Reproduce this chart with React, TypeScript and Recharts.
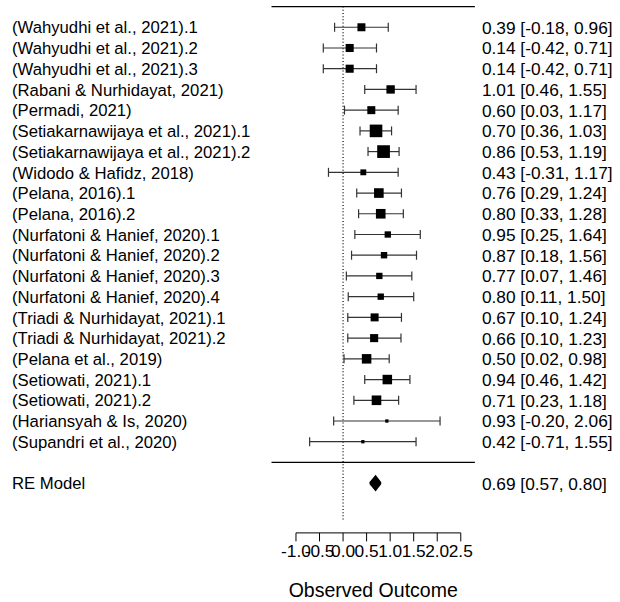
import React from 'react';
import {
  ComposedChart,
  Scatter,
  ErrorBar,
  Area,
  XAxis,
  YAxis,
  ReferenceLine
} from 'recharts';

const studies = [
  '(Wahyudhi et al., 2021).1',
  '(Wahyudhi et al., 2021).2',
  '(Wahyudhi et al., 2021).3',
  '(Rabani & Nurhidayat, 2021)',
  '(Permadi, 2021)',
  '(Setiakarnawijaya et al., 2021).1',
  '(Setiakarnawijaya et al., 2021).2',
  '(Widodo & Hafidz, 2018)',
  '(Pelana, 2016).1',
  '(Pelana, 2016).2',
  '(Nurfatoni & Hanief, 2020).1',
  '(Nurfatoni & Hanief, 2020).2',
  '(Nurfatoni & Hanief, 2020).3',
  '(Nurfatoni & Hanief, 2020).4',
  '(Triadi & Nurhidayat, 2021).1',
  '(Triadi & Nurhidayat, 2021).2',
  '(Pelana et al., 2019)',
  '(Setiowati, 2021).1',
  '(Setiowati, 2021).2',
  '(Hariansyah & Is, 2020)',
  '(Supandri et al., 2020)'
];
const estimates = [0.39, 0.14, 0.14, 1.01, 0.60, 0.70, 0.86, 0.43, 0.76, 0.80, 0.95, 0.87, 0.77, 0.80, 0.67, 0.66, 0.50, 0.94, 0.71, 0.93, 0.42];
const lowers = [-0.18, -0.42, -0.42, 0.46, 0.03, 0.36, 0.53, -0.31, 0.29, 0.33, 0.25, 0.18, 0.07, 0.11, 0.10, 0.10, 0.02, 0.46, 0.23, -0.20, -0.71];
const uppers = [0.96, 0.71, 0.71, 1.55, 1.17, 1.03, 1.19, 1.17, 1.24, 1.28, 1.64, 1.56, 1.46, 1.50, 1.24, 1.23, 0.98, 1.42, 1.18, 2.06, 1.55];
// approximate study weights (%)
const weights = [4.77, 4.82, 4.82, 5.02, 4.77, 7.72, 7.79, 3.41, 5.81, 5.81, 3.71, 3.73, 3.71, 3.71, 4.77, 4.82, 5.74, 5.74, 5.81, 1.76, 1.76];

const reLabel = 'RE Model';
const reEstimate = 0.69;
const reLower = 0.57;
const reUpper = 0.80;

const xTicks = [-1, -0.5, 0, 0.5, 1, 1.5, 2, 2.5];
const xLabel = 'Observed Outcome';

const FONT = '"Liberation Sans", Arial, sans-serif';
const k = studies.length;
const RE_ROW = -1;
const TOP_ROW = k + 1;
const AXIS_ROW = -3.4;
const DIAMOND_HALF = 0.33;

const fmt = (v: number) => v.toFixed(2);
const annotate = (e: number, l: number, u: number) => `${fmt(e)} [${fmt(l)}, ${fmt(u)}]`;

const studyData = studies.map((name, i) => ({
  name,
  x: estimates[i],
  y: k - i,
  err: [estimates[i] - lowers[i], uppers[i] - estimates[i]],
  w: weights[i]
}));

const diamondData = [
  { x: reLower, range: [RE_ROW, RE_ROW] },
  { x: reEstimate, range: [RE_ROW - DIAMOND_HALF, RE_ROW + DIAMOND_HALF] },
  { x: reUpper, range: [RE_ROW, RE_ROW] }
];

const leftLabels = new Map<number, string>();
const rightLabels = new Map<number, string>();
studyData.forEach((d, i) => {
  leftLabels.set(d.y, d.name);
  rightLabels.set(d.y, annotate(estimates[i], lowers[i], uppers[i]));
});
leftLabels.set(RE_ROW, reLabel);
rightLabels.set(RE_ROW, annotate(reEstimate, reLower, reUpper));
const rowTicks = [...studyData.map(d => d.y), RE_ROW];

const wMin = Math.min(...weights);
const wMax = Math.max(...weights);
const boxSize = (w: number) => 3.3 + ((w - wMin) / (wMax - wMin)) * 9.4;

const LeftTick = (props: any) => {
  const { y, payload } = props;
  return (
    <text x={12} y={y} dy="0.37em" fontSize={16.7} fontFamily={FONT} fill="#000">
      {leftLabels.get(payload.value)}
    </text>
  );
};

const RightTick = (props: any) => {
  const { x, y, payload } = props;
  return (
    <text x={x + 7} y={y} dy="0.37em" fontSize={17.3} fontFamily={FONT} fill="#000">
      {rightLabels.get(payload.value)}
    </text>
  );
};

const XTick = (props: any) => {
  const { x, y, payload } = props;
  return (
    <g>
      <line x1={x} x2={x} y1={y} y2={y + 8.5} stroke="#000" strokeWidth={1} />
      <text x={x} y={y + 24} textAnchor="middle" fontSize={17.3} fontFamily={FONT} fill="#000">
        {payload.value.toFixed(1)}
      </text>
    </g>
  );
};

const Box = (props: any) => {
  const { cx, cy, payload } = props;
  const s = boxSize(payload.w);
  return <rect x={cx - s / 2} y={cy - s / 2} width={s} height={s} fill="#000" />;
};

export default function App() {
  return (
    <div style={{ position: 'absolute', left: 0, top: 0, background: '#fff' }}>
      <ComposedChart
        width={620}
        height={602}
        data={diamondData}
        margin={{ top: 2.4, right: 0, bottom: 0, left: 0 }}
      >
        <XAxis
          dataKey="x"
          type="number"
          domain={[-1.52, 2.8]}
          allowDataOverflow
          ticks={xTicks}
          interval={0}
          height={69.1}
          axisLine={false}
          tickLine={false}
          tickSize={0}
          tickMargin={0}
          tick={XTick}
          label={{
            value: xLabel,
            position: 'insideBottom',
            offset: 5.5,
            fill: '#000',
            fontSize: 19.5,
            fontFamily: FONT
          }}
        />
        <YAxis
          yAxisId="left"
          dataKey="y"
          type="number"
          domain={[AXIS_ROW, 22.2]}
          allowDataOverflow
          ticks={rowTicks}
          interval={0}
          width={271.5}
          axisLine={false}
          tickLine={false}
          tickSize={0}
          tickMargin={0}
          tick={LeftTick}
        />
        <YAxis
          yAxisId="right"
          orientation="right"
          type="number"
          domain={[AXIS_ROW, 22.2]}
          allowDataOverflow
          ticks={rowTicks}
          interval={0}
          width={145.1}
          axisLine={false}
          tickLine={false}
          tickSize={0}
          tickMargin={0}
          tick={RightTick}
        />
        <ReferenceLine yAxisId="left" y={TOP_ROW} stroke="#000" strokeWidth={1.3} />
        <ReferenceLine yAxisId="left" y={0} stroke="#000" strokeWidth={1.3} />
        <ReferenceLine
          yAxisId="left"
          segment={[{ x: 0, y: TOP_ROW }, { x: 0, y: -2.86 }]}
          stroke="#000"
          strokeDasharray="1 2.2"
          strokeWidth={1.2}
        />
        <ReferenceLine
          yAxisId="left"
          ifOverflow="visible"
          segment={[{ x: xTicks[0], y: AXIS_ROW }, { x: xTicks[xTicks.length - 1], y: AXIS_ROW }]}
          stroke="#000"
          strokeWidth={1}
        />
        <Area
          yAxisId="left"
          type="linear"
          dataKey="range"
          stroke="#000"
          strokeWidth={2}
          strokeLinejoin="miter"
          fill="#000"
          fillOpacity={1}
          dot={false}
          activeDot={false}
          isAnimationActive={false}
        />
        <Scatter
          yAxisId="left"
          data={studyData}
          dataKey="y"
          shape={Box}
          isAnimationActive={false}
        >
          <ErrorBar dataKey="err" direction="x" width={4.5} stroke="#333" strokeWidth={1.2} />
        </Scatter>
      </ComposedChart>
    </div>
  );
}
